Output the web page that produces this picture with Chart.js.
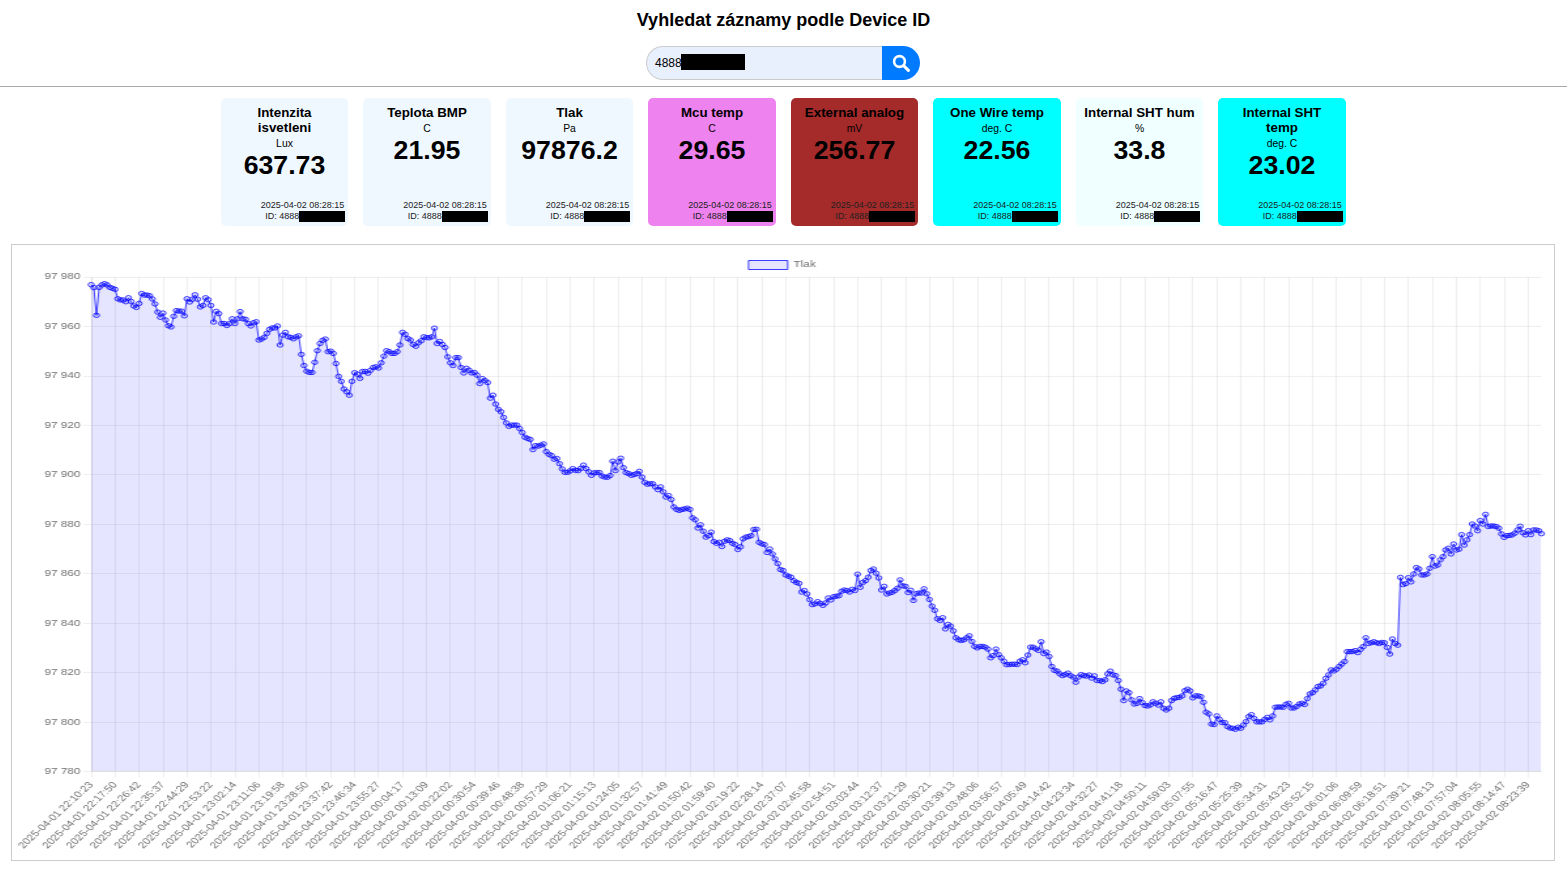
<!DOCTYPE html>
<html lang="cs">
<head>
<meta charset="utf-8">
<title>Vyhledat záznamy</title>
<script src="https://cdn.jsdelivr.net/npm/chart.js@4/dist/chart.umd.min.js"></script>
<style>
  html, body { margin: 0; padding: 0; background: #fff; font-family: "Liberation Sans", Arial, sans-serif; color: #000; overflow: hidden; }
  h1 { position: absolute; left: 0; right: 0; top: 10px; margin: 0; text-align: center; font-size: 18px; line-height: 20px; font-weight: bold; }
  .search { position: absolute; left: 646px; top: 46px; width: 274px; height: 34px; display: flex; }
  .field { box-sizing: border-box; width: 236px; height: 34px; background: #e8f0fe; border: 1px solid #ccc; border-right: none; border-radius: 17px 0 0 17px; font-size: 12px; line-height: 32px; padding-left: 8px; position: relative; }
  .field i { position: absolute; left: 34px; top: 7px; width: 64px; height: 16px; background: #000; }
  .go { width: 38px; height: 34px; background: #007bff; border-radius: 0 17px 17px 0; display: flex; align-items: center; justify-content: center; }
  hr { position: absolute; left: 0; right: 0; top: 86px; margin: 0; border: 0; height: 1px; background: #a8a8a8; }
  .cards { position: absolute; left: 220.75px; top: 98px; display: flex; gap: 15px; }
  .card { position: relative; box-sizing: border-box; width: 127.5px; height: 128px; border-radius: 5px; padding-top: 7px; text-align: center; }
  .card b { display: block; font-size: 13.33px; line-height: 15px; }
  .card span.unit { display: block; font-size: 10.4px; line-height: 15px; margin-top: 1px; }
  .card strong { display: block; font-size: 26.7px; line-height: 30px; margin-top: -1px; }
  .card small { position: absolute; right: 4px; top: 102px; font-size: 9px; line-height: 11px; text-align: right; color: #222; white-space: nowrap; }
  .card small i { display: inline-block; width: 46px; height: 11px; background: #000; vertical-align: top; margin-right: -1px; }
  .panel { position: absolute; left: 11px; top: 244px; box-sizing: border-box; width: 1544px; height: 617px; border: 1px solid #ccc; }
  #trend { position: absolute; left: 6px; top: 8px; }
</style>
</head>
<body>
<h1>Vyhledat záznamy podle Device ID</h1>
<div class="search">
  <div class="field">4888<i></i></div>
  <div class="go">
    <svg width="18" height="18" viewBox="0 0 18 18"><circle cx="7.5" cy="7.5" r="5.4" fill="none" stroke="#fff" stroke-width="2.6"/><line x1="11.6" y1="11.6" x2="16.4" y2="16.4" stroke="#fff" stroke-width="3" stroke-linecap="round"/></svg>
  </div>
</div>
<hr>
<div class="cards" id="cards"></div>
<div class="panel">
  <canvas id="trend" width="1559" height="800" style="width:1528px;height:600px"></canvas>
</div>
<script>
// Sensor tiles shown above the pressure trend
const sensorTitles = ["Intenzita<br>isvetleni", "Teplota BMP", "Tlak", "Mcu temp", "External analog", "One Wire temp", "Internal SHT hum", "Internal SHT<br>temp"];
const sensorUnits = ["Lux", "C", "Pa", "C", "mV", "deg. C", "%", "deg. C"];
const sensorValues = ["637.73", "21.95", "97876.2", "29.65", "256.77", "22.56", "33.8", "23.02"];
const sensorColors = ["#f0f8ff", "#f0f8ff", "#f0f8ff", "#ee82ee", "#a52a2a", "#00ffff", "#f0ffff", "#00ffff"];
const lastReading = "2025-04-02 08:28:15";

// Every ninth sample carries an axis label
const labelEvery = 9;
const tickLabels = [
  "2025-04-01 22:10:23","2025-04-01 22:17:50","2025-04-01 22:26:42","2025-04-01 22:35:37","2025-04-01 22:44:29",
  "2025-04-01 22:53:22","2025-04-01 23:02:14","2025-04-01 23:11:06","2025-04-01 23:19:58","2025-04-01 23:28:50",
  "2025-04-01 23:37:42","2025-04-01 23:46:34","2025-04-01 23:55:27","2025-04-02 00:04:17","2025-04-02 00:13:09",
  "2025-04-02 00:22:02","2025-04-02 00:30:54","2025-04-02 00:39:46","2025-04-02 00:48:38","2025-04-02 00:57:29",
  "2025-04-02 01:06:21","2025-04-02 01:15:13","2025-04-02 01:24:05","2025-04-02 01:32:57","2025-04-02 01:41:49",
  "2025-04-02 01:50:42","2025-04-02 01:59:40","2025-04-02 02:19:22","2025-04-02 02:28:14","2025-04-02 02:37:07",
  "2025-04-02 02:45:58","2025-04-02 02:54:51","2025-04-02 03:03:44","2025-04-02 03:12:37","2025-04-02 03:21:29",
  "2025-04-02 03:30:21","2025-04-02 03:39:13","2025-04-02 03:48:06","2025-04-02 03:56:57","2025-04-02 04:05:49",
  "2025-04-02 04:14:42","2025-04-02 04:23:34","2025-04-02 04:32:27","2025-04-02 04:41:18","2025-04-02 04:50:11",
  "2025-04-02 04:59:03","2025-04-02 05:07:55","2025-04-02 05:16:47","2025-04-02 05:25:39","2025-04-02 05:34:31",
  "2025-04-02 05:43:23","2025-04-02 05:52:15","2025-04-02 06:01:06","2025-04-02 06:09:59","2025-04-02 06:18:51",
  "2025-04-02 07:39:21","2025-04-02 07:48:13","2025-04-02 07:57:04","2025-04-02 08:05:55","2025-04-02 08:14:47",
  "2025-04-02 08:23:39"
];

// Pressure samples in Pa
const pressure = [
  97976.9,97975.7,97964.5,97975.8,97976.8,97977.3,97976.8,97975.8,97975.4,
  97975.0,97971.2,97970.7,97970.7,97970.0,97971.6,97970.1,97968.3,97967.7,
  97969.3,97973.3,97972.7,97972.7,97972.4,97971.1,97969.1,97965.8,97963.7,
  97965.4,97962.6,97960.3,97959.8,97964.1,97966.4,97966.2,97966.2,97964.3,
  97971.2,97969.9,97971.0,97972.8,97971.0,97967.9,97968.5,97971.6,97970.8,
  97968.5,97961.8,97966.1,97965.2,97961.2,97961.2,97960.4,97961.2,97963.1,
  97961.2,97963.1,97966.0,97963.1,97962.9,97961.2,97960.2,97961.5,97961.9,
  97954.5,97954.9,97955.6,97957.2,97958.8,97959.4,97959.4,97960.2,97952.5,
  97956.5,97957.6,97955.8,97955.6,97955.0,97955.8,97956.2,97948.7,97944.2,
  97941.9,97941.4,97941.4,97945.5,97950.2,97953.1,97954.4,97954.9,97949.8,
  97950.0,97949.1,97945.0,97939.8,97937.8,97934.7,97933.6,97932.2,97937.8,
  97941.3,97940.7,97939.0,97941.8,97941.8,97941.1,97942.3,97943.4,97943.7,
  97943.2,97945.3,97948.0,97950.2,97949.8,97949.1,97949.1,97949.8,97952.5,
  97957.6,97956.8,97955.1,97954.5,97952.7,97952.0,97953.4,97954.2,97955.8,
  97955.5,97955.4,97955.8,97959.3,97953.1,97953.9,97952.7,97951.5,97947.7,
  97945.3,97944.2,97947.4,97947.4,97943.4,97941.2,97943.1,97942.3,97941.2,
  97941.4,97940.3,97936.9,97938.9,97938.1,97937.3,97931.0,97932.2,97928.6,
  97926.5,97925.5,97923.2,97921.0,97919.6,97920.1,97920.1,97920.1,97918.7,
  97917.1,97915.2,97914.7,97914.3,97910.2,97911.8,97911.6,97912.0,97912.5,
  97909.4,97908.3,97907.8,97906.3,97906.6,97904.5,97902.4,97901.0,97901.0,
  97901.6,97902.5,97901.8,97901.7,97902.6,97903.9,97902.5,97901.2,97899.8,
  97900.8,97900.9,97900.9,97899.5,97899.1,97899.0,97899.7,97905.5,97901.7,
  97905.2,97906.7,97902.9,97900.9,97900.5,97899.8,97900.1,97900.5,97901.4,
  97899.1,97897.0,97896.2,97896.4,97896.4,97895.1,97894.0,97895.1,97893.1,
  97891.0,97891.6,97890.0,97887.0,97886.0,97885.6,97886.0,97886.2,97886.5,
  97886.0,97882.6,97881.8,97878.5,97879.8,97877.2,97874.8,97875.4,97876.8,
  97873.0,97872.3,97872.7,97871.0,97873.1,97873.7,97873.4,97872.3,97871.8,
  97869.8,97870.9,97874.1,97874.8,97875.0,97875.4,97877.9,97878.0,97872.7,
  97872.1,97871.8,97868.6,97870.0,97868.0,97866.0,97864.1,97861.7,97861.3,
  97859.5,97859.0,97858.6,97857.2,97856.5,97856.1,97852.6,97853.2,97851.8,
  97849.5,97847.5,97847.8,97848.7,97848.0,97847.2,97848.2,97850.2,97849.4,
  97850.7,97850.9,97851.1,97852.9,97853.4,97853.2,97852.6,97853.7,97853.2,
  97859.8,97854.5,97856.5,97857.2,97858.6,97861.3,97861.9,97860.2,97858.3,
  97853.4,97854.9,97851.8,97852.2,97852.5,97853.2,97854.1,97857.5,97855.1,
  97854.9,97852.4,97853.3,97849.2,97851.9,97852.2,97852.2,97853.9,97851.9,
  97849.6,97846.9,97845.2,97841.8,97841.1,97842.2,97837.7,97839.5,97838.8,
  97836.9,97834.1,97833.3,97833.0,97833.3,97834.1,97834.9,97832.6,97830.6,
  97830.0,97830.6,97830.6,97830.3,97829.5,97826.0,97826.9,97829.5,97827.3,
  97826.0,97824.6,97823.2,97823.3,97823.4,97823.4,97823.3,97824.6,97825.2,
  97824.0,97827.1,97830.3,97830.3,97829.6,97829.0,97832.5,97827.7,97828.3,
  97826.5,97822.5,97820.9,97820.6,97819.5,97818.8,97819.2,97819.8,97818.8,
  97818.2,97816.1,97818.2,97819.2,97818.8,97818.6,97819.0,97817.8,97818.7,
  97816.8,97816.8,97816.4,97817.1,97819.5,97820.6,97819.1,97818.8,97816.8,
  97813.3,97808.7,97812.6,97811.9,97809.0,97807.3,97807.6,97809.5,97807.9,
  97806.7,97806.5,97806.9,97808.2,97807.6,97806.9,97808.2,97805.6,97804.9,
  97805.6,97808.7,97809.6,97809.9,97810.0,97810.6,97812.7,97813.3,97812.6,
  97809.8,97810.6,97810.6,97810.3,97808.0,97804.0,97803.3,97799.2,97799.0,
  97802.5,97801.1,97799.8,97799.8,97798.2,97797.6,97797.5,97797.1,97797.9,
  97797.5,97798.8,97800.2,97802.2,97803.0,97801.5,97800.1,97800.1,97800.1,
  97801.1,97801.9,97800.9,97802.5,97806.0,97806.1,97806.1,97806.0,97807.2,
  97807.6,97805.7,97805.7,97806.3,97807.3,97807.6,97807.1,97809.5,97811.4,
  97811.9,97813.0,97814.4,97814.6,97815.7,97817.7,97819.1,97821.1,97820.7,
  97821.4,97822.5,97823.5,97824.5,97828.5,97828.5,97828.5,97828.9,97828.1,
  97829.4,97830.5,97834.1,97831.8,97832.1,97832.5,97832.1,97831.8,97832.2,
  97832.1,97830.2,97827.5,97833.6,97831.8,97831.1,97858.5,97855.6,97856.0,
  97858.4,97856.7,97859.9,97862.5,97861.9,97859.5,97859.5,97859.9,97862.2,
  97866.9,97863.1,97863.5,97865.6,97866.9,97869.6,97870.3,97868.0,97872.0,
  97869.6,97869.9,97875.8,97871.6,97873.7,97875.8,97880.1,97879.3,97877.4,
  97881.5,97880.1,97884.0,97879.1,97879.3,97879.3,97879.1,97878.4,97876.1,
  97874.7,97875.4,97875.5,97875.7,97876.4,97877.7,97879.2,97876.6,97875.7,
  97877.4,97875.8,97877.7,97877.7,97877.4,97876.2
];

const axisMin = 97780;
const axisMax = 97980;
const axisStep = 20;
const textColor = "#707070";
const chartFont = { family: '"Liberation Sans", Arial, sans-serif', size: 12 };

// Tile row
document.getElementById("cards").innerHTML = sensorTitles.map((title, i) => `
  <div class="card" style="background:${sensorColors[i]}">
    <b>${title}</b><span class="unit">${sensorUnits[i]}</span><strong>${sensorValues[i]}</strong>
    <small>${lastReading}<br>ID: 4888<i></i></small>
  </div>`).join("");

// Only the labelled samples get axis text and a vertical grid line
const categories = pressure.map((_, i) => (i % labelEvery === 0 ? tickLabels[i / labelEvery] : ""));

// Thousands separated by a non-breaking space, Czech style
const formatPa = v => String(v).replace(/\B(?=(\d{3})+$)/g, "\u00a0");

new Chart(document.getElementById("trend"), {
  type: "line",
  data: {
    labels: categories,
    datasets: [{
      label: "Tlak",
      data: pressure,
      fill: true,
      tension: 0,
      backgroundColor: "rgba(0,0,255,0.1)",
      borderColor: "#0000ff",
      borderWidth: 1,
      pointRadius: 3,
      pointBorderWidth: 1,
      pointBorderColor: "#0000ff",
      pointBackgroundColor: "rgba(0,0,255,0.1)"
    }]
  },
  options: {
    responsive: false,
    animation: false,
    devicePixelRatio: 0.75,
    plugins: {
      legend: { labels: { color: textColor, font: chartFont } },
      tooltip: { enabled: false }
    },
    scales: {
      x: {
        ticks: {
          autoSkip: false,
          minRotation: 50,
          maxRotation: 50,
          color: textColor,
          font: chartFont,
          callback(value) { return this.getLabelForValue(value) || null; }
        }
      },
      y: {
        min: axisMin,
        max: axisMax,
        ticks: {
          stepSize: axisStep,
          color: textColor,
          font: chartFont,
          callback: formatPa
        }
      }
    }
  }
});
</script>
</body>
</html>
